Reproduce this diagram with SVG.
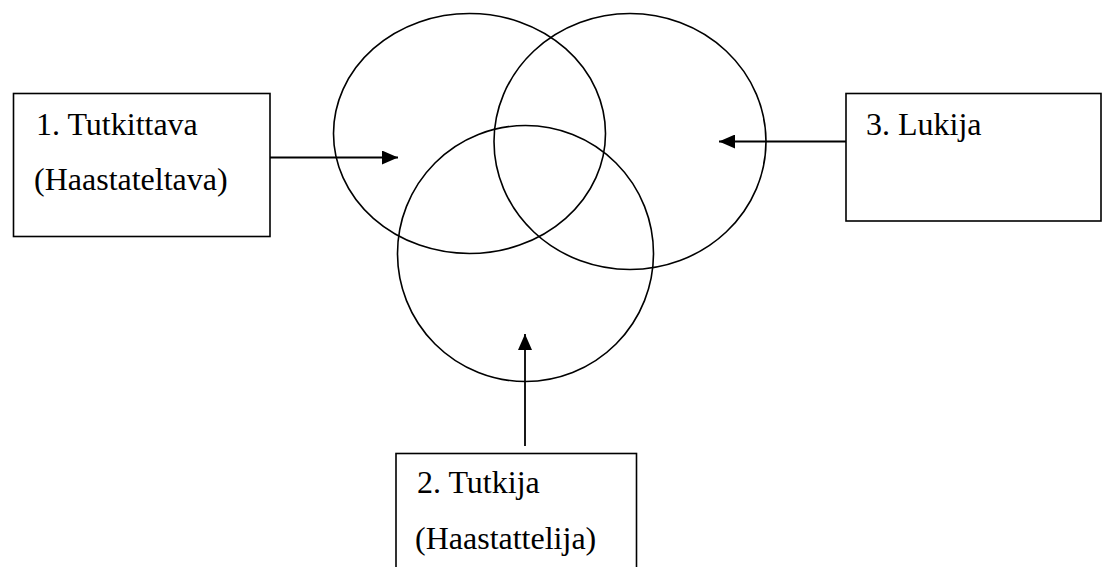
<svg xmlns="http://www.w3.org/2000/svg" width="1109" height="567" viewBox="0 0 1109 567">
<defs>
<style>
.box{fill:#fff;stroke:#000;stroke-width:1.6}
.circ{fill:none;stroke:#000;stroke-width:1.6}
.lbl{font-family:"Liberation Serif","Times New Roman",serif;font-size:32px;fill:#000}
.conn{stroke:#000;stroke-width:1.8;fill:none;marker-end:url(#ah)}
</style>
<marker id="ah" viewBox="0 0 16 14" refX="16" refY="7" markerWidth="16" markerHeight="14" markerUnits="userSpaceOnUse" orient="auto">
<path d="M0,0 L16,7 L0,14 Z" fill="#000"/>
</marker>
</defs>
<rect width="1109" height="567" fill="#fff"/>
<g id="circles">
<ellipse class="circ" cx="469.5" cy="133.5" rx="136" ry="120"/>
<ellipse class="circ" cx="630" cy="141.5" rx="136" ry="128"/>
<ellipse class="circ" cx="525.5" cy="253.5" rx="128" ry="128"/>
</g>
<g id="node1">
<rect class="box" x="13.5" y="93.5" width="256.5" height="143"/>
<text class="lbl" x="36" y="135">1. Tutkittava</text>
<text class="lbl" x="34" y="190">(Haastateltava)</text>
</g>
<g id="node3">
<rect class="box" x="846" y="93.5" width="255" height="127.5"/>
<text class="lbl" x="866" y="135">3. Lukija</text>
</g>
<g id="node2">
<rect class="box" x="396" y="453.5" width="240.5" height="130"/>
<text class="lbl" x="417" y="493">2. Tutkija</text>
<text class="lbl" x="415" y="549">(Haastattelija)</text>
</g>
<g id="connectors">
<line class="conn" x1="270" y1="157.5" x2="398" y2="157.5"/>
<line class="conn" x1="846" y1="141.5" x2="719" y2="141.5"/>
<line class="conn" x1="525" y1="446" x2="525" y2="334"/>
</g>
</svg>
